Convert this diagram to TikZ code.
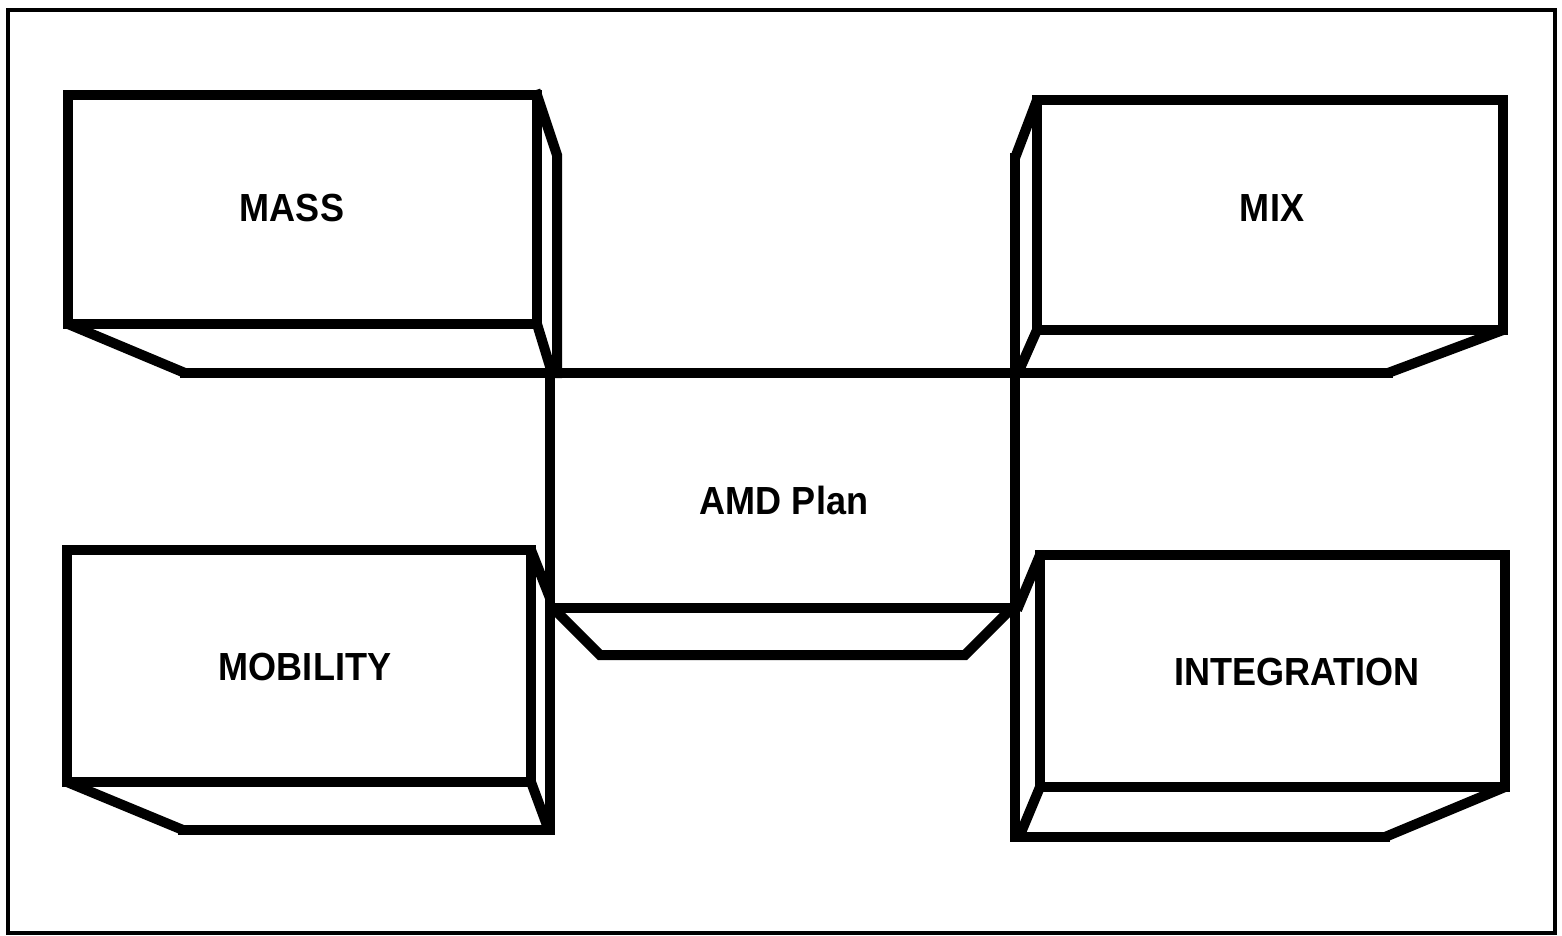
\documentclass[tikz,border=0pt]{standalone}
\usepackage{fontspec}
\setmainfont{Liberation Sans}
\begin{document}
\begin{tikzpicture}[x=1pt,y=-1pt,
  edge/.style={line width=10pt,line join=miter,line cap=rect},
  frame/.style={line width=4pt},
  lbl/.style={font=\fontsize{35}{40}\selectfont\bfseries,inner sep=0pt}]
\useasboundingbox (0,0) rectangle (1562,936);
% outer frame
\draw[frame] (8,10) rectangle (1555,933);
% MASS
\draw[edge] (68,95) rectangle (537,324);
\draw[edge] (537,95) -- (557,155) -- (557,373);
\draw[edge,line cap=butt] (68,324) -- (185,373);
\draw[edge,line cap=butt] (537,324) -- (552,373);
% long horizontal line
\draw[edge] (185,373) -- (1388,373);
% MIX
\draw[edge] (1037,100) rectangle (1503,330);
\draw[edge,line cap=butt] (1037,100) -- (1015,158);
\draw[edge,line cap=butt] (1503,330) -- (1388,373);
\draw[edge,line cap=butt] (1037,330) -- (1018,373);
% right vertical
\draw[edge] (1015,158) -- (1015,837);
% AMD Plan
\draw[edge] (550,373) -- (550,830);
\draw[edge] (550,608) -- (1015,608);
\draw[edge,line join=miter] (555,610) -- (600,655) -- (965,655) -- (1010,610);
% MOBILITY
\draw[edge] (67,550) rectangle (531,782);
\draw[edge,line cap=butt] (531,550) -- (550,598);
\draw[edge,line cap=butt] (67,782) -- (183,830);
\draw[edge] (183,830) -- (550,830);
\draw[edge,line cap=butt] (531,782) -- (548,828);
% INTEGRATION
\draw[edge] (1040,555) rectangle (1505,787);
\draw[edge,line cap=butt] (1040,555) -- (1017,610);
\draw[edge,line cap=butt] (1505,787) -- (1385,837);
\draw[edge] (1385,837) -- (1015,837);
\draw[edge,line cap=butt] (1040,787) -- (1020,835);
% labels
\node[lbl] (mass) at (292,208) {\scalebox{1.03}[1.12]{MASS}};
\node[lbl] (mix) at (1272,208) {\scalebox{1.03}[1.12]{MIX}};
\node[lbl] (amd) at (784,500) {\scalebox{1.03}[1.12]{AMD Plan}};
\node[lbl] (mobility) at (305,667) {\scalebox{1.03}[1.12]{MOBILITY}};
\node[lbl] (integration) at (1297,672) {\scalebox{1.03}[1.12]{INTEGRATION}};
\end{tikzpicture}
\end{document}
